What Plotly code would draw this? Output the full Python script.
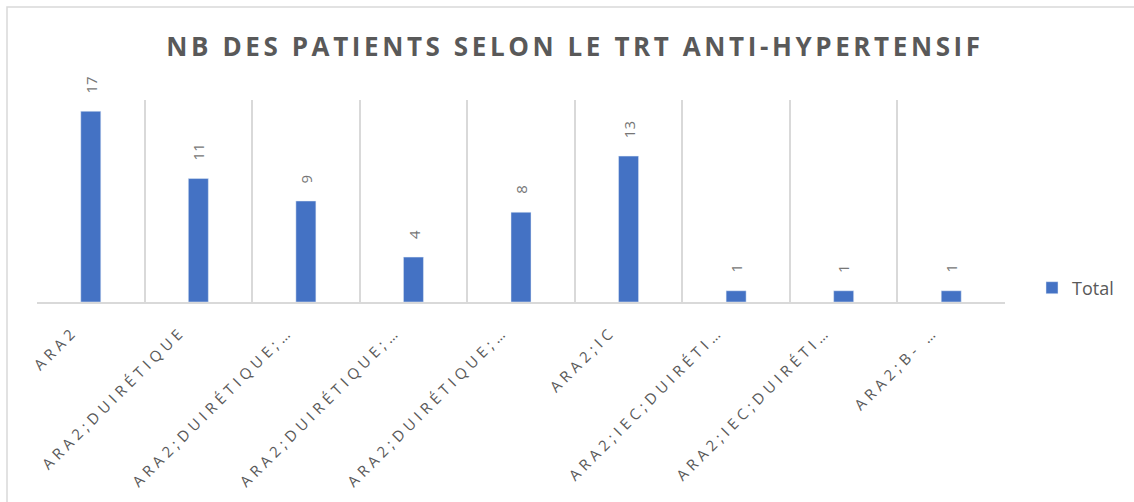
import plotly.graph_objects as go

categories = ["ARA2", "ARA2;DUIRÉTIQUE", "ARA2;DUIRÉTIQUE;…", "ARA2;DUIRÉTIQUE;…",
              "ARA2;DUIRÉTIQUE;…", "ARA2;IC", "ARA2;IEC;DUIRÉTI…", "ARA2;IEC;DUIRÉTI…", "ARA2;B- …"]
values = [17, 11, 9, 4, 8, 13, 1, 1, 1]
series_name = "Total"
title = "NB DES PATIENTS SELON LE TRT ANTI-HYPERTENSIF"

W, H = 1134, 502
ML, MR, MT, MB = 37, 129, 100, 200
PW = W - ML - MR
PH = H - MT - MB

BLUE = "#4472C4"
GRID = "#d9d9d9"
TXT = "#595959"
FONT = "Open Sans"

xs = list(range(len(values)))

fig = go.Figure()
fig.add_trace(go.Bar(
    x=xs, y=values, name=series_name, marker_color=BLUE,
    showlegend=True,
))

def spaced(s, px):
    return f'<span style="letter-spacing:{px}px">{s}</span>'

annotations = []
for x, v in zip(xs, values):
    annotations.append(dict(
        x=x, y=v, xref="x", yref="y", text=str(v), textangle=-90,
        showarrow=False, yanchor="bottom", xanchor="center", yshift=16,
        font=dict(family=FONT, size=15, color="#767676"),
    ))

fig.update_layout(
    width=W, height=H,
    margin=dict(l=ML, r=MR, t=MT, b=MB),
    paper_bgcolor="white", plot_bgcolor="white",
    title=dict(text=spaced("<b>" + title + "</b>", 3.6), x=0.507, xanchor="center",
               y=1 - 47 / H, yanchor="middle",
               font=dict(family=FONT, size=26, color=TXT)),
    bargap=0.814,
    xaxis=dict(
        range=[-0.5, len(values) - 0.5],
        tickmode="array", tickvals=xs,
        ticktext=[spaced(c, 4.5) for c in categories],
        tickangle=-45, showgrid=False, zeroline=False,
        showline=True, linecolor=GRID, linewidth=1.5,
        ticks="", tickfont=dict(family=FONT, size=15, color=TXT),
        ticklabelstandoff=13, ticklabelshift=-17,
        minor=dict(tick0=-0.5, dtick=1, showgrid=True, gridcolor=GRID, gridwidth=1.5, ticks=""),
        fixedrange=True,
    ),
    yaxis=dict(range=[0, 18], showgrid=False, zeroline=False, showticklabels=False,
               showline=False, ticks="", fixedrange=True),
    legend=dict(x=(1032 - ML) / PW, y=(302 - 288) / PH,
                xanchor="left", yanchor="middle",
                font=dict(family=FONT, size=18, color=TXT), bgcolor="rgba(0,0,0,0)"),
    annotations=annotations,
    shapes=[dict(type="rect", xref="paper", yref="paper",
                 x0=(7 - ML) / PW, x1=(W + 20 - ML) / PW,
                 y0=(H - MB - (H + 20)) / PH, y1=(H - MB - 7) / PH,
                 line=dict(color=GRID, width=1.5), fillcolor="rgba(0,0,0,0)", layer="below")],
)

fig.write_html("out.html", config={"displayModeBar": False},
               post_script="document.body.style.margin='0';")
